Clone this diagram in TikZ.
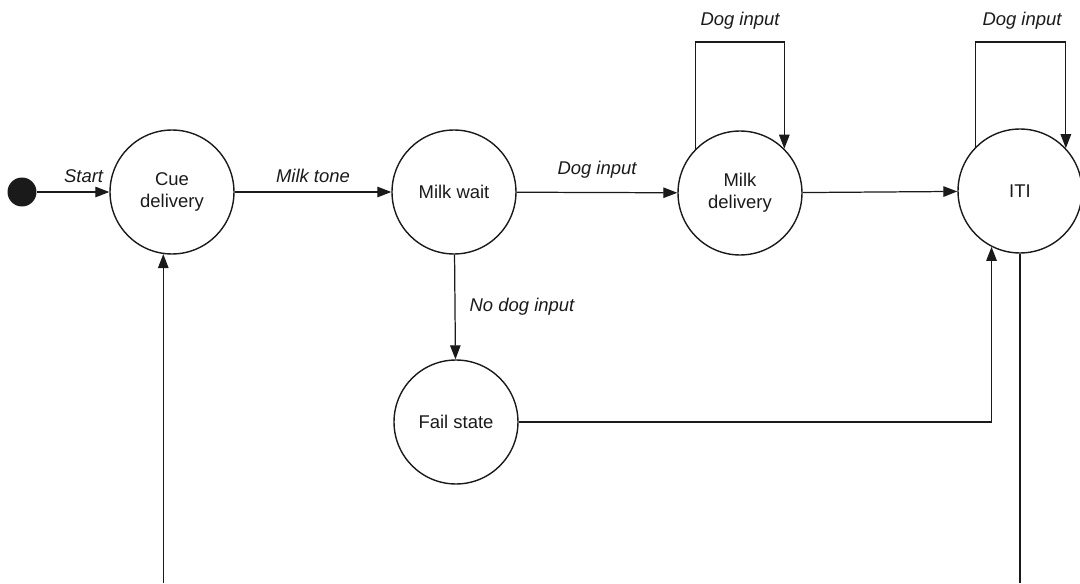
\documentclass[tikz,border=0pt]{standalone}
\usepackage{fontspec}
\setmainfont{Liberation Sans}
\usepackage{tikz}
\usetikzlibrary{arrows.meta,positioning,calc}
\definecolor{ink}{HTML}{1A1A1A}
\tikzset{
  state/.style={circle, draw=ink, line width=0.8pt, minimum size=2.48cm, inner sep=0pt,
                text=ink, align=center, font=\fontsize{10.5}{12.5}\selectfont},
  initdot/.style={circle, fill=ink, minimum size=0.58cm, inner sep=0pt},
  flow/.style={-{Triangle[length=2.8mm,width=2.1mm]}, line width=0.7pt, draw=ink},
  wire/.style={line width=0.7pt, draw=ink},
  lbl/.style={font=\fontsize{10.5}{12.5}\selectfont\itshape, text=ink, inner sep=2pt}
}
\begin{document}
\begin{tikzpicture}[x=0.02cm, y=0.02cm]
  \useasboundingbox (0,0) rectangle (1080,583);
  % states
  \node[initdot] (init) at (22,391) {};
  \node[state] (cue)      at (172,391) {Cue\\delivery};
  \node[state] (milkwait) at (454,391) {Milk wait};
  \node[state] (milkdel)  at (740,390) {Milk\\delivery};
  \node[state] (iti)      at (1020,392) {ITI};
  \node[state] (fail)     at (456,161) {Fail state};
  % loop tops and the open ends at the bottom
  \coordinate (loopmd) at (740,541);
  \coordinate (loopiti) at (1022,541);
  \coordinate (bot) at (0,0);
  % transitions
  \draw[flow] (init) -- (cue) node[midway,above,lbl,yshift=3pt,xshift=6pt]{Start};
  \draw[flow] (cue) -- (milkwait) node[midway,above,lbl,yshift=3pt]{Milk tone};
  \draw[flow] (milkwait) -- (milkdel) node[midway,above,lbl,yshift=6pt]{Dog input};
  \draw[flow] (milkdel) -- (iti);
  \draw[flow] (milkwait) -- (fail) node[midway,right,lbl,xshift=6pt]{No dog input};
  \draw[flow] (fail.east) -| (iti.243);
  \draw[flow] (milkdel.135) |- (loopmd) -| (milkdel.45);
  \node[lbl, above=5pt of loopmd] (dogmd) {Dog input};
  \draw[flow] (iti.135) |- (loopiti) -| (iti.43);
  \node[lbl, above=5pt of loopiti] (dogiti) {Dog input};
  \draw[wire] (iti.south) -- (iti.south |- bot);
  \draw[flow] (cue.262 |- bot) -- (cue.262);
\end{tikzpicture}
\end{document}
